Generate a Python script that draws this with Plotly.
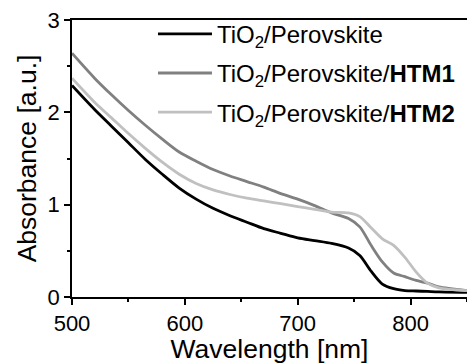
import plotly.graph_objects as go

wavelength = [500, 520, 535, 550, 565, 580, 595, 610, 625, 640, 655, 670, 685, 700, 715, 730,
              745, 755, 765, 775, 785, 795, 805, 815, 825, 850]
abs_perov = [2.29, 2.03, 1.85, 1.67, 1.49, 1.33, 1.18, 1.06, 0.96, 0.88, 0.81, 0.74, 0.69, 0.64, 0.61, 0.58,
             0.53, 0.45, 0.28, 0.14, 0.09, 0.07, 0.065, 0.06, 0.055, 0.05]
abs_htm1 = [2.64, 2.37, 2.19, 2.02, 1.86, 1.71, 1.57, 1.47, 1.38, 1.31, 1.25, 1.19, 1.12, 1.06, 0.99, 0.91,
            0.85, 0.76, 0.56, 0.38, 0.26, 0.22, 0.18, 0.15, 0.11, 0.07]
abs_htm2 = [2.37, 2.11, 1.94, 1.77, 1.61, 1.46, 1.33, 1.23, 1.16, 1.11, 1.07, 1.04, 1.01, 0.98, 0.95, 0.92,
            0.91, 0.87, 0.75, 0.63, 0.56, 0.43, 0.27, 0.15, 0.10, 0.07]

names = ["TiO<sub>2</sub>/Perovskite",
         "TiO<sub>2</sub>/Perovskite/<b>HTM1</b>",
         "TiO<sub>2</sub>/Perovskite/<b>HTM2</b>"]
colors = ["#000000", "#808080", "#c0c0c0"]
series = [abs_perov, abs_htm1, abs_htm2]

fig = go.Figure()
for i, (n, c, s) in enumerate(zip(names, colors, series)):
    fig.add_trace(go.Scatter(x=wavelength, y=s, mode="lines", name=n,
                             legendgroup=str(i),
                             line=dict(color=c, width=2.8, shape="spline", smoothing=0.8)))

font_family = "Liberation Sans"
fig.update_layout(
    width=467, height=364,
    margin=dict(l=72, r=0, t=20, b=67, autoexpand=False),
    paper_bgcolor="white", plot_bgcolor="white",
    font=dict(family=font_family, color="black", size=22),
    showlegend=True,
    legend=dict(x=0.205, y=1.03, xanchor="left", yanchor="top",
                bgcolor="rgba(0,0,0,0)", font=dict(family=font_family, size=24),
                tracegroupgap=5, itemwidth=54),
    xaxis=dict(range=[500, 850], dtick=100, tick0=500,
               ticks="outside", ticklen=6, tickwidth=1.5, tickcolor="black",
               showline=True, linecolor="black", linewidth=1.5, mirror=True,
               showgrid=False, zeroline=False,
               tickfont=dict(family=font_family, size=22),
               minor=dict(ticks="outside", ticklen=3, dtick=50, tickcolor="black"),
               title=dict(text="Wavelength [nm]", font=dict(family=font_family, size=26.5), standoff=19)),
    yaxis=dict(range=[0, 3], dtick=1,
               ticks="outside", ticklen=6, tickwidth=1.5, tickcolor="black",
               showline=True, linecolor="black", linewidth=1.5, mirror=False,
               showgrid=False, zeroline=False,
               tickfont=dict(family=font_family, size=22),
               minor=dict(ticks="outside", ticklen=3, dtick=0.5, tickcolor="black"),
               title=dict(text="Absorbance [a.u.]", font=dict(family=font_family, size=26.5), standoff=3)),
)

fig.write_html("out.html", config={"displayModeBar": False},
               post_script="document.body.style.margin='0';document.body.style.overflow='hidden';")
